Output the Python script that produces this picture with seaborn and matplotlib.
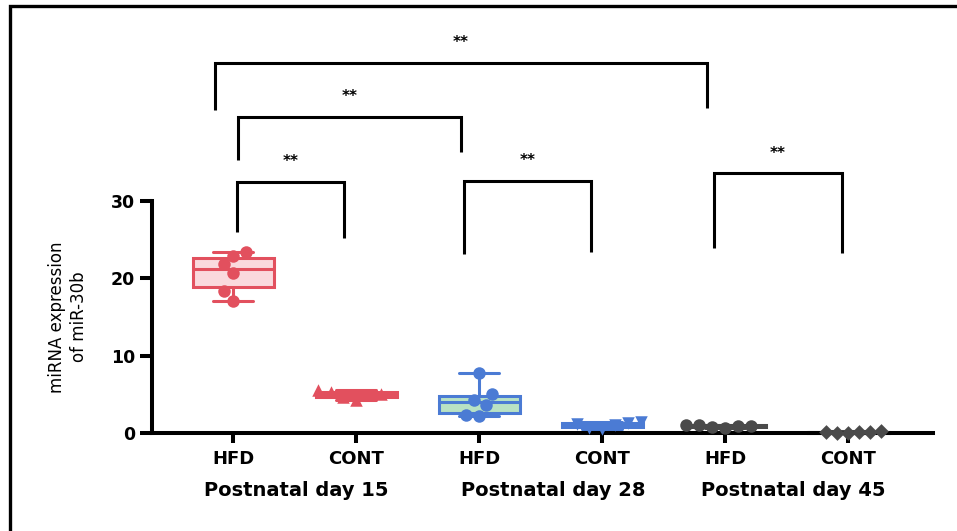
import matplotlib
matplotlib.use("Agg")
import matplotlib.pyplot as plt
import matplotlib.transforms as mtransforms
from matplotlib.patches import Rectangle
import seaborn as sns
import pandas as pd

# ---------------- data ----------------
groups = ["HFD_15", "CONT_15", "HFD_28", "CONT_28", "HFD_45", "CONT_45"]
tick_labels = ["HFD", "CONT", "HFD", "CONT", "HFD", "CONT"]
day_labels = ["Postnatal day 15", "Postnatal day 28", "Postnatal day 45"]

hfd15 = [23.4, 22.9, 21.8, 20.7, 18.3, 17.1]
cont15 = [5.5, 5.3, 5.1, 4.9, 4.6, 4.3]
hfd28 = [7.7, 5.0, 4.3, 3.6, 2.3, 2.2]
cont28 = [1.4, 1.3, 1.2, 1.0, 0.7, 0.5]
hfd45 = [1.0, 1.0, 0.95, 0.9, 0.8, 0.7]
cont45 = [0.2, 0.15, 0.1, 0.1, 0.05, 0.0]
values = [hfd15, cont15, hfd28, cont28, hfd45, cont45]

y_label = "miRNA expression\nof miR-30b"
y_ticks = [0, 10, 20, 30]

# significance brackets: (left x, right x, left leg bottom, right leg bottom, top, label)
brackets = [
    (-0.15, 3.85, 41.8, 42.0, 47.9, "**"),
    (0.04, 1.85, 35.3, 36.3, 40.9, "**"),
    (0.03, 0.90, 26.0, 25.2, 32.5, "**"),
    (1.88, 2.91, 23.1, 23.4, 32.6, "**"),
    (3.91, 4.95, 23.9, 23.3, 33.6, "**"),
]

# ---------------- styles ----------------
red, pink = "#E2505E", "#FAD9DD"
blue, green = "#4B7BD4", "#B9E2C4"
gray = "#4A4A4A"
faces = [pink, red, green, blue, gray, gray]
edges = [red, red, blue, blue, gray, gray]
markers = ["o", "^", "o", "v", "o", "D"]
msizes = [9, 9, 9, 9, 9, 7.5]

sns.set_theme(style="white")
plt.rcParams["font.family"] = ["DejaVu Sans"]
plt.rcParams["text.color"] = "black"

fig = plt.figure(figsize=(9.57, 5.31), dpi=100)
fig.patch.set_facecolor("white")
ax = fig.add_axes([152 / 957, 1 - 433 / 531, 781 / 957, 55 * 7.733 / 531])

df = pd.DataFrame({
    "group": [g for g, v in zip(groups, values) for _ in v],
    "value": [x for v in values for x in v],
})

for g, face, edge, mk, ms in zip(groups, faces, edges, markers, msizes):
    sub = df[df["group"] == g]
    sns.boxplot(data=sub, x="group", y="value", order=groups, color=face,
                linecolor=edge, linewidth=2.2, width=0.66, whis=(0, 100),
                showfliers=False, saturation=1, ax=ax)
for g, face, edge, mk, ms in zip(groups, faces, edges, markers, msizes):
    sub = df[df["group"] == g]
    sns.swarmplot(data=sub, x="group", y="value", order=groups, color=edge,
                  marker=mk, size=ms, linewidth=0, ax=ax, zorder=5)

for art in ax.collections + ax.lines + ax.patches:
    art.set_clip_on(False)

ax.set_xlim(-0.66, 5.69)
ax.set_ylim(0, 55)
ax.set_yticks(y_ticks)
ax.set_xticks(range(len(groups)))
ax.set_xticklabels(tick_labels)
ax.set_xlabel("")
ax.set_ylabel("")
ax.grid(False)

for s in ["top", "right"]:
    ax.spines[s].set_visible(False)
for s in ["left", "bottom"]:
    ax.spines[s].set_linewidth(2.9)
    ax.spines[s].set_color("black")
ax.spines["left"].set_bounds(0, 30)

ax.tick_params(axis="y", left=True, length=9, width=2.9, color="black",
               labelsize=12.5, pad=3, labelcolor="black")
ax.tick_params(axis="x", bottom=True, length=7, width=2.9, color="black",
               labelsize=13, pad=5, labelcolor="black")
for lbl in ax.get_xticklabels() + ax.get_yticklabels():
    lbl.set_fontweight("bold")

ax.text(-0.1076, 15 / 55, y_label, rotation=90, ha="center", va="center",
        transform=ax.transAxes, fontsize=12, linespacing=1.3,
        multialignment="center", color="black")

trans = mtransforms.blended_transform_factory(ax.transData, fig.transFigure)
for xc, lab in zip([0.51, 2.60, 4.55], day_labels):
    ax.text(xc, 1 - 491 / 531, lab, transform=trans, ha="center", va="center",
            fontsize=14, fontweight="bold", color="black")

for x1, x2, yl, yr, yt, lab in brackets:
    ax.plot([x1, x1, x2, x2], [yl, yt, yt, yr], color="black", lw=2.2,
            clip_on=False, solid_joinstyle="miter", solid_capstyle="butt")
    ax.text((x1 + x2) / 2, yt + 2.6, lab, ha="center", va="center",
            fontsize=11, fontweight="bold", clip_on=False, color="black")

fig.add_artist(Rectangle((10 / 957, -0.2), 1.5, 0.2 + 1 - 6 / 531,
                         transform=fig.transFigure, fill=False, lw=2.4,
                         edgecolor="black"))

fig.savefig("out.png", dpi=100)
